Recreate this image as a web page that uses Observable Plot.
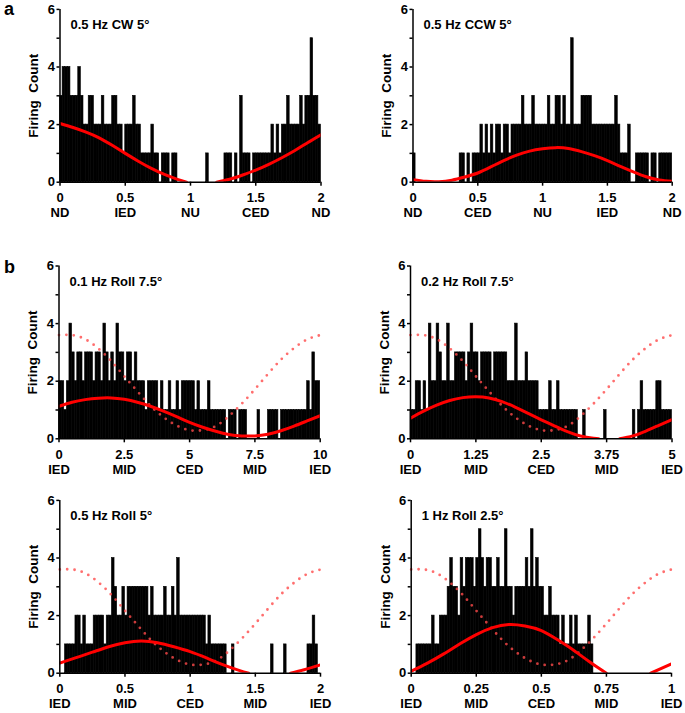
<!DOCTYPE html>
<html><head><meta charset="utf-8">
<script src="https://cdn.jsdelivr.net/npm/d3@7"></script>
<script src="https://cdn.jsdelivr.net/npm/@observablehq/plot@0.6"></script>
<style>
body{margin:0;background:#fff;}
#fig{position:relative;width:685px;height:713px;font-family:"Liberation Sans",Arial,sans-serif;color:#000;}
.panel{position:absolute;}
.letter{position:absolute;font-weight:bold;font-size:18px;line-height:1;}
</style></head>
<body><div id="fig"></div>
<script>
// ---- histogram counts (100 bins per panel) ----
const countsA1=[3,4,4,4,3,3,3,4,3,2, 2,3,3,2,2,2,3,2,2,2, 3,3,2,2,1,2,2,2,3,2, 2,1,1,1,1,2,1,1,0,1,
  1,1,0,1,1,0,0,0,0,0, 0,0,0,0,0,0,1,0,0,0, 0,0,0,1,1,1,0,1,0,3, 1,1,1,0,1,1,1,1,1,1,
  1,2,1,2,1,2,2,3,2,2, 2,2,3,2,3,3,5,3,3,2];
const countsA2=[1,0,0,0,0,0,0,0,0,0, 0,0,0,0,0,0,0,0,1,1, 0,1,0,1,1,1,2,1,2,1, 2,1,2,2,1,2,2,1,2,2,
  2,2,3,2,2,2,3,2,2,2, 2,2,3,2,2,3,3,2,3,2, 2,5,2,2,2,3,3,3,3,2, 2,2,2,2,2,2,2,2,3,2,
  1,1,1,2,0,0,1,1,1,1, 1,0,1,1,0,1,1,1,1,1];
const countsB1=[2,2,1,2,4,3,2,3,3,2, 3,3,3,2,3,3,2,4,3,2, 3,2,4,3,3,2,3,3,2,3, 2,2,2,1,2,2,2,2,1,2,
  1,1,2,1,1,2,1,2,2,2, 2,2,1,2,1,1,1,2,1,1, 1,1,1,1,0,1,1,1,0,1, 1,1,0,0,0,0,1,0,0,0,
  1,1,1,1,0,1,1,1,1,1, 1,1,1,1,1,2,1,3,2,2];
const countsB2=[1,1,2,2,1,2,1,4,2,2, 4,3,2,2,4,2,2,3,3,3, 3,2,3,4,3,3,2,3,3,3, 3,2,3,3,3,3,3,2,2,2,
  4,2,2,2,3,2,2,2,2,1, 1,1,1,2,1,1,2,1,1,1, 1,1,1,1,0,0,1,0,0,0, 0,0,0,0,1,0,0,0,0,0,
  0,0,0,0,0,1,0,1,2,1, 1,1,1,1,2,2,1,1,1,1];
const countsB3=[0,0,1,1,1,1,2,2,1,2, 1,1,1,2,2,2,2,1,2,2, 4,3,2,2,3,2,3,3,3,3, 3,3,3,3,2,3,2,2,2,2,
  3,2,2,3,2,4,2,2,2,2, 2,2,2,2,2,2,1,2,1,1, 1,1,1,1,0,0,1,0,0,0, 0,0,0,0,0,0,0,0,0,0,
  0,1,0,0,0,0,1,0,0,0, 0,0,0,0,0,1,1,2,1,0];
const countsB4=[0,0,1,1,1,1,1,1,2,1, 1,2,2,2,3,4,3,3,2,4, 3,4,4,4,3,4,5,4,3,4, 4,3,3,4,3,3,5,3,3,2,
  3,3,3,3,4,3,5,3,4,3, 3,2,2,3,2,2,2,1,2,1, 1,2,1,2,1,1,1,1,2,1, 0,0,0,0,0,0,0,0,0,0,
  0,0,0,0,0,0,0,0,0,0, 0,0,0,0,0,0,0,0,0,0];

// ---- red fit curves (null = gap where the fit is below zero) ----
const fitA1X=[0,0.1,0.2,0.3,0.4,0.5,0.6,0.7,0.8,0.9,0.97,1.08,1.2,1.3,1.4,1.5,1.6,1.7,1.8,1.9,2.0];
const fitA1Y=[2.04,1.9,1.74,1.54,1.28,1.0,0.73,0.48,0.27,0.1,0,null,0,0.1,0.25,0.42,0.62,0.85,1.1,1.38,1.65];
const fitA2X=[0,0.1,0.2,0.3,0.4,0.5,0.6,0.7,0.8,0.9,1.0,1.1,1.2,1.3,1.4,1.5,1.6,1.7,1.8,1.9,2.0];
const fitA2Y=[0.09,0.03,0.02,0.07,0.18,0.32,0.53,0.75,0.94,1.08,1.16,1.2,1.17,1.06,0.92,0.75,0.55,0.36,0.19,0.08,0.03];
const fitB1X=[0,0.5,1,1.5,2,2.5,3,3.5,4,4.5,5,5.5,6,6.5,7,7.5,8,8.5,9,9.5,10];
const fitB1Y=[1.13,1.27,1.36,1.41,1.42,1.37,1.27,1.13,0.96,0.77,0.57,0.4,0.26,0.15,0.1,0.1,0.16,0.28,0.44,0.62,0.8];
const fitB2X=[0,0.25,0.5,0.75,1,1.25,1.5,1.75,2,2.25,2.5,2.75,3,3.25,3.5,3.6,3.8,4.0,4.25,4.5,4.75,5];
const fitB2Y=[0.72,0.96,1.17,1.33,1.43,1.46,1.42,1.29,1.1,0.88,0.66,0.45,0.25,0.1,0.02,0,null,0,0.1,0.27,0.47,0.67];
const fitB3X=[0,0.125,0.25,0.375,0.5,0.625,0.75,0.875,1,1.125,1.25,1.375,1.45,1.6,1.77,1.875,2];
const fitB3Y=[0.35,0.54,0.73,0.92,1.06,1.12,1.06,0.92,0.75,0.53,0.3,0.1,0,null,0,0.12,0.29];
const fitB4X=[0,0.0625,0.125,0.1875,0.25,0.3125,0.375,0.4375,0.5,0.5625,0.625,0.6875,0.75,0.83,0.92,1.0];
const fitB4Y=[0.07,0.35,0.67,1.02,1.34,1.58,1.69,1.64,1.48,1.16,0.79,0.38,0,null,0,0.32];

// ---- dotted stimulus trace (fraction of cycle -> value), same in all roll panels ----
const dotPhase=[0,0.05,0.1,0.15,0.2,0.25,0.3,0.35,0.4,0.45,0.5,0.55,0.6,0.65,0.7,0.75,0.8,0.85,0.9,0.95,1];
const dotValue=[3.6,3.6,3.46,3.14,2.7,2.17,1.65,1.15,0.75,0.46,0.3,0.3,0.44,0.78,1.22,1.72,2.25,2.75,3.15,3.45,3.6];

// ---- titles, ticks, tick labels ----
const titles=["0.5 Hz CW 5°","0.5 Hz CCW 5°","0.1 Hz Roll 7.5°","0.2 Hz Roll 7.5°","0.5 Hz Roll 5°","1 Hz Roll 2.5°"];
const periods=[2,2,10,5,2,1];
const ticksA=[0,0.5,1,1.5,2];
const ticksB1=[0,2.5,5,7.5,10];
const ticksB2=[0,1.25,2.5,3.75,5];
const ticksB4=[0,0.25,0.5,0.75,1];
const labelsA=["0","0.5","1","1.5","2"];
const labelsB1=["0","2.5","5","7.5","10"];
const labelsB2=["0","1.25","2.5","3.75","5"];
const labelsB4=["0","0.25","0.5","0.75","1"];
const catsA1=["ND","IED","NU","CED","ND"];
const catsA2=["ND","CED","NU","IED","ND"];
const catsB=["IED","MID","CED","MID","IED"];
const yTicksMajor=[0,2,4,6];
const yTickLabels=["0","2","4","6"];
const yTicksMinor=[1,3,5];
const yLabel="Firing\u00a0 Count";

const panels=[
 {left:0,top:0,w:340,h:225,mL:59.5,mR:19.5,mT:8.9,mB:43.3,counts:countsA1,fx:fitA1X,fy:fitA1Y,dots:false,ticks:ticksA,labels:labelsA,cats:catsA1},
 {left:340,top:0,w:345,h:225,mL:72.5,mR:13.3,mT:8.9,mB:43.3,counts:countsA2,fx:fitA2X,fy:fitA2Y,dots:false,ticks:ticksA,labels:labelsA,cats:catsA2},
 {left:0,top:250,w:340,h:235,mL:58.5,mR:20.3,mT:15.5,mB:46.7,counts:countsB1,fx:fitB1X,fy:fitB1Y,dots:true,ticks:ticksB1,labels:labelsB1,cats:catsB},
 {left:340,top:250,w:345,h:235,mL:70,mR:13.5,mT:15.5,mB:46.7,counts:countsB2,fx:fitB2X,fy:fitB2Y,dots:true,ticks:ticksB2,labels:labelsB2,cats:catsB},
 {left:0,top:485,w:340,h:228,mL:59.3,mR:20,mT:14.9,mB:40.3,counts:countsB3,fx:fitB3X,fy:fitB3Y,dots:true,ticks:ticksA,labels:labelsA,cats:catsB},
 {left:340,top:485,w:345,h:228,mL:70.7,mR:14,mT:14.9,mB:40.3,counts:countsB4,fx:fitB4X,fy:fitB4Y,dots:true,ticks:ticksB4,labels:labelsB4,cats:catsB}
];

const yLabMap=new Map(yTicksMajor.map((t,i)=>[t,yTickLabels[i]]));
const fig=document.getElementById("fig");
panels.forEach((p,k)=>{
  const T=periods[k];
  const n=p.counts.length, bw=T/n;
  const bars=p.counts.map((c,i)=>({x1:i*bw,x2:(i+1)*bw,c}));
  const fit=p.fx.map((x,i)=>({x,y:p.fy[i]}));
  const dots=dotPhase.map((f,i)=>({x:f*T,y:dotValue[i]}));
  const labMap=new Map(p.ticks.map((t,i)=>[t,p.labels[i]]));
  const catMap=new Map(p.ticks.map((t,i)=>[t,p.cats[i]]));
  const marks=[
    Plot.rect(bars.filter(b=>b.c>0),{x1:"x1",x2:"x2",y1:0,y2:"c",fill:"black",stroke:"black",strokeWidth:0.6}),
  ];
  if(p.dots) marks.push(Plot.line(dots,{x:"x",y:"y",curve:"natural",stroke:"#ff4a4a",strokeOpacity:0.8,strokeWidth:2.8,strokeDasharray:"0,7.4",strokeLinecap:"round"}));
  marks.push(
    Plot.line(fit,{x:"x",y:"y",curve:"natural",stroke:"#ff0000",strokeWidth:3,clip:true}),
    Plot.ruleX([0],{strokeWidth:1.5}),
    Plot.ruleY([0],{strokeWidth:1.5}),
    Plot.axisY({ticks:yTicksMajor,tickSize:3,tickPadding:2,strokeWidth:1.5,tickFormat:d=>yLabMap.get(d),label:null,fontSize:13}),
    Plot.axisY({ticks:yTicksMinor,tickSize:3,strokeWidth:1.5,tickFormat:()=>"",label:null}),
    Plot.axisX({ticks:p.ticks,tickSize:4,tickPadding:7,strokeWidth:1.5,tickFormat:d=>labMap.get(d),label:null,fontSize:13}),
    Plot.axisX({ticks:p.ticks,tickSize:0,tickPadding:26,tickFormat:d=>catMap.get(d),label:null,fontSize:13}),
    Plot.text([titles[k]],{frameAnchor:"top-left",dx:10.5,dy:10.5,textAnchor:"start",lineAnchor:"top",fontSize:13,fontWeight:"bold"}),
    Plot.text([yLabel],{frameAnchor:"left",rotate:-90,dx:-26,textAnchor:"middle",lineAnchor:"middle",fontSize:13.5,fontWeight:"bold"})
  );
  const svg=Plot.plot({
    width:p.w,height:p.h,
    marginLeft:p.mL,marginRight:p.mR,marginTop:p.mT,marginBottom:p.mB,
    x:{domain:[0,T]},y:{domain:[0,6]},
    style:{fontFamily:"'Liberation Sans', Arial, sans-serif",fontSize:"13px",fontWeight:"bold",background:"transparent",overflow:"visible",color:"black"},
    marks
  });
  const d=document.createElement("div");
  d.className="panel";
  d.style.left=p.left+"px"; d.style.top=p.top+"px";
  d.appendChild(svg);
  fig.appendChild(d);
});
const la=document.createElement("div"); la.className="letter"; la.textContent="a"; la.style.left="4px"; la.style.top="0px"; fig.appendChild(la);
const lb=document.createElement("div"); lb.className="letter"; lb.textContent="b"; lb.style.left="4px"; lb.style.top="258px"; fig.appendChild(lb);
</script>
</body></html>
